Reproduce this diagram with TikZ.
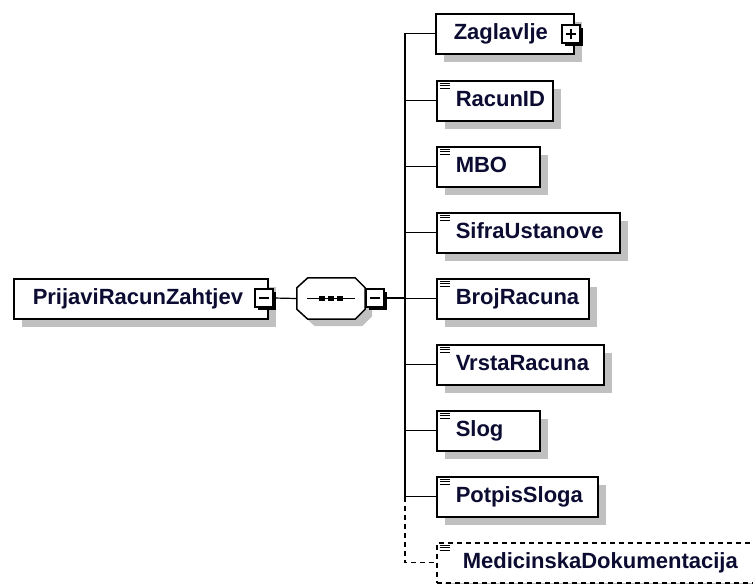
\documentclass[tikz,border=0pt]{standalone}
\usepackage{fontspec}
\setmainfont{Liberation Sans}
\usetikzlibrary{shadows}
\definecolor{shgray}{RGB}{192,192,192}
\definecolor{txt}{RGB}{12,12,50}
\begin{document}
\begin{tikzpicture}[x=1pt,y=-1pt,
  elem/.style={draw, line width=1.5pt, fill=white, rectangle, inner sep=0pt,
    minimum height=40pt, anchor=north west, align=left, text width=#1,
    font=\fontsize{22}{26}\selectfont\bfseries, text=txt,
    text height=14pt, text depth=2pt,
    drop shadow={shadow xshift=8pt, shadow yshift=-8pt, fill=shgray, opacity=1}},
  optelem/.style={elem=#1, dash pattern=on 5pt off 4pt},
  seqbox/.style={inner sep=0pt, minimum width=68pt, minimum height=41pt},
  octo/.style={draw, line width=1.5pt, fill=white,
    drop shadow={shadow xshift=7pt, shadow yshift=-7pt, fill=shgray, opacity=1}},
  pm/.style={draw, fill=white, line width=1.2pt, minimum size=18pt, inner sep=0pt,
    drop shadow={shadow xshift=3pt, shadow yshift=-3pt, fill=black, opacity=1}},
  conn/.style={line width=1.2pt},
  iconline/.style={line width=0.9pt},
  sign/.style={line width=1.2pt}
]
\useasboundingbox (0,0) rectangle (753,584);

% root element
\node[elem=254pt] (root) at (13,278) {\hspace*{19pt}PrijaviRacunZahtjev};
\node[pm] (rootm) at (264,298) {};
\draw[sign] ([xshift=-5pt]rootm.center) -- ([xshift=5pt]rootm.center);

% sequence compositor (octagon)
\node[seqbox] (seq) at (331,298.5) {};
\path[octo] ([xshift=11pt]seq.north west) -- ([xshift=-10pt]seq.north east)
  -- ([yshift=-10pt]seq.north east) -- ([yshift=10pt]seq.south east)
  -- ([xshift=-10pt]seq.south east) -- ([xshift=11pt]seq.south west)
  -- ([yshift=10pt]seq.south west) -- ([yshift=-10pt]seq.north west) -- cycle;
\draw[line width=1.3pt] ([xshift=-24pt]seq.center) -- ([xshift=24pt]seq.center);
\foreach \dx in {-12,-3,6}
  \fill ([xshift=\dx pt,yshift=2.5pt]seq.center) rectangle ++(6,5);
\node[pm] (seqm) at (375,298) {};
\draw[sign] ([xshift=-5pt]seqm.center) -- ([xshift=5pt]seqm.center);

\coordinate (trunk) at (405,298);

% children
\node[elem=138pt] (zag) at (435,13) {\hspace*{18pt}Zaglavlje};
\node[pm] (zagp) at (571,34) {};
\draw[sign] ([xshift=-5pt]zagp.center) -- ([xshift=5pt]zagp.center);
\draw[sign] ([yshift=-5pt]zagp.center) -- ([yshift=5pt]zagp.center);

\node[elem=116pt] (racun) at (436,80) {\hspace*{19pt}RacunID};
\node[elem=103pt] (mbo) at (436,146) {\hspace*{19pt}MBO};
\node[elem=183pt] (sifra) at (436,212) {\hspace*{19pt}SifraUstanove};
\node[elem=152pt] (broj) at (436,278) {\hspace*{19pt}BrojRacuna};
\node[elem=167pt] (vrsta) at (436,344) {\hspace*{19pt}VrstaRacuna};
\node[elem=103pt] (slog) at (436,410) {\hspace*{19pt}Slog};
\node[elem=161pt] (potpis) at (436,476) {\hspace*{19pt}PotpisSloga};
\node[optelem=330pt] (medic) at (436,542) {\hspace*{26pt}MedicinskaDokumentacija};

% element icons
\foreach \n in {racun,mbo,sifra,broj,vrsta,slog,potpis,medic}
  \foreach \d in {3,5.7,8.4}
    \draw[iconline] ([xshift=3.5pt,yshift=-\d pt]\n.north west) -- ++(10,0);

% connectors
\draw[conn] (rootm.east) -- (seq.west);
\draw[conn] (seqm.east) -- (trunk);
\draw[conn] (zag.west) -- (zag.west -| trunk) -- (potpis.west -| trunk);
\foreach \n in {racun,mbo,sifra,broj,vrsta,slog,potpis}
  \draw[conn] (\n.west -| trunk) -- (\n.west);
\draw[conn, dash pattern=on 5pt off 4pt] (potpis.west -| trunk) |- (medic.west);
\end{tikzpicture}
\end{document}
